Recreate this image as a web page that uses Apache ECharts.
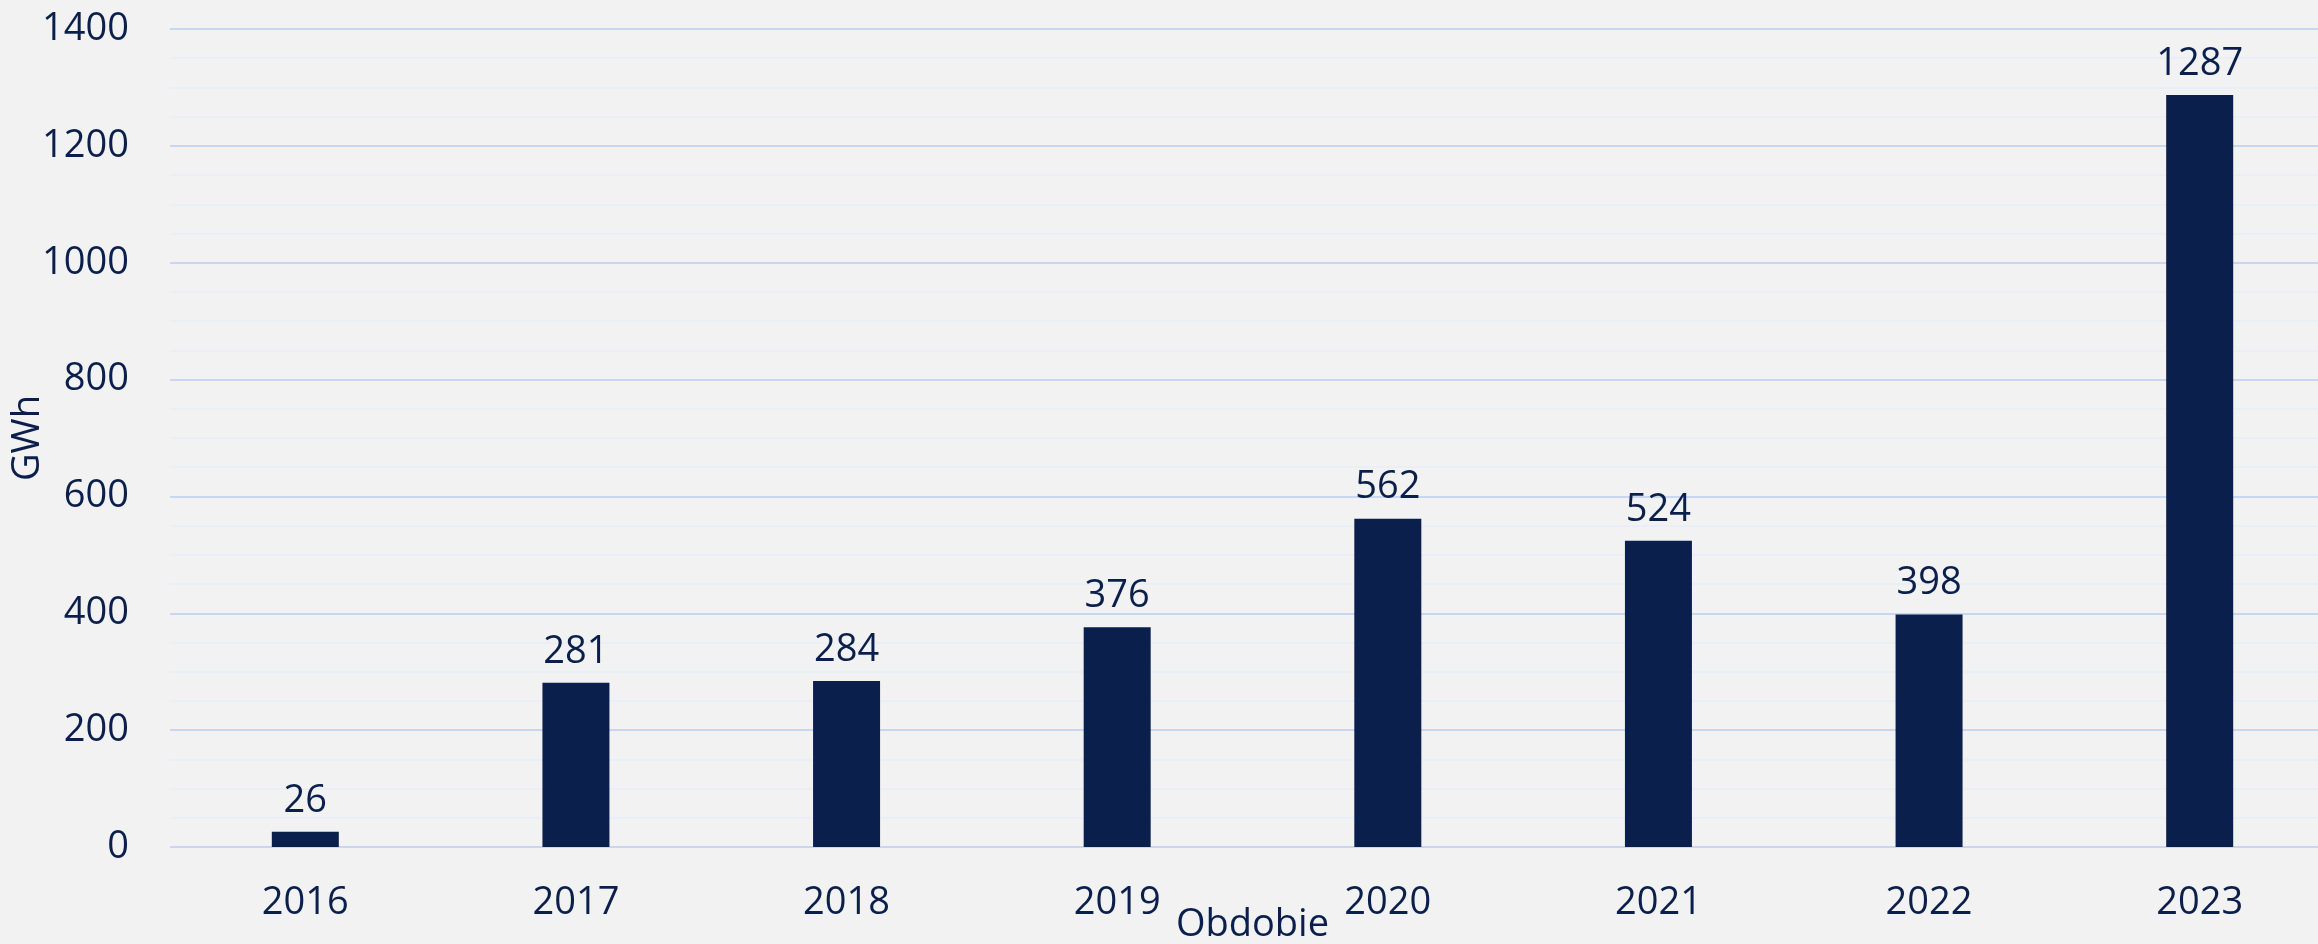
<!DOCTYPE html>
<html>
<head>
<meta charset="utf-8">
<script src="https://cdn.jsdelivr.net/npm/echarts@6/dist/echarts.min.js"></script>
<style>
  html, body { margin: 0; padding: 0; background: #f2f2f2; }
  #myChart { width: 2318px; height: 944px; }
</style>
</head>
<body>
<div id="myChart"></div>
<script>
  // roky a hodnoty (GWh)
  var years = ['2016', '2017', '2018', '2019', '2020', '2021', '2022', '2023'];
  var values = [26, 281, 284, 376, 562, 524, 398, 1287];
  var yMax = 1400;
  var yStep = 200;

  var navy = '#0b1f4d';
  var font = 'Open Sans';

  var myChart = echarts.init(document.getElementById('myChart'));
  myChart.setOption({
    backgroundColor: '#f2f2f2',
    animation: false,
    textStyle: { fontFamily: font },
    grid: {
      left: 170,
      right: -17,
      top: 29,
      bottom: 97,
      outerBoundsMode: 'none',
      containLabel: false
    },
    xAxis: {
      type: 'category',
      data: years,
      name: 'Obdobie',
      nameLocation: 'middle',
      nameGap: 59,
      nameMoveOverlap: false,
      nameTextStyle: { color: navy, fontSize: 38, fontFamily: font },
      axisLine: { show: false },
      axisTick: { show: false },
      axisLabel: { color: navy, fontSize: 38, margin: 37, fontFamily: font }
    },
    yAxis: {
      type: 'value',
      min: 0,
      max: yMax,
      interval: yStep,
      name: 'GWh',
      nameLocation: 'middle',
      nameGap: 123,
      nameMoveOverlap: false,
      nameTextStyle: { color: navy, fontSize: 38, fontFamily: font },
      axisLine: { show: false },
      axisTick: { show: false },
      axisLabel: {
        color: navy, fontSize: 38, margin: 41, fontFamily: font,
        formatter: function (v) { return String(v); }
      },
      splitLine: { show: true, lineStyle: { color: '#c9d6f2', width: 2 } },
      minorTick: { show: false, splitNumber: 4 },
      minorSplitLine: { show: true, lineStyle: { color: '#eaeef7', width: 2 } }
    },
    series: [{
      type: 'bar',
      data: values,
      barWidth: 67,
      itemStyle: { color: navy },
      label: {
        show: true,
        position: 'top',
        distance: 12,
        color: navy,
        fontSize: 38,
        fontFamily: font
      }
    }]
  });
  window.onresize = myChart.resize;
</script>
</body>
</html>
